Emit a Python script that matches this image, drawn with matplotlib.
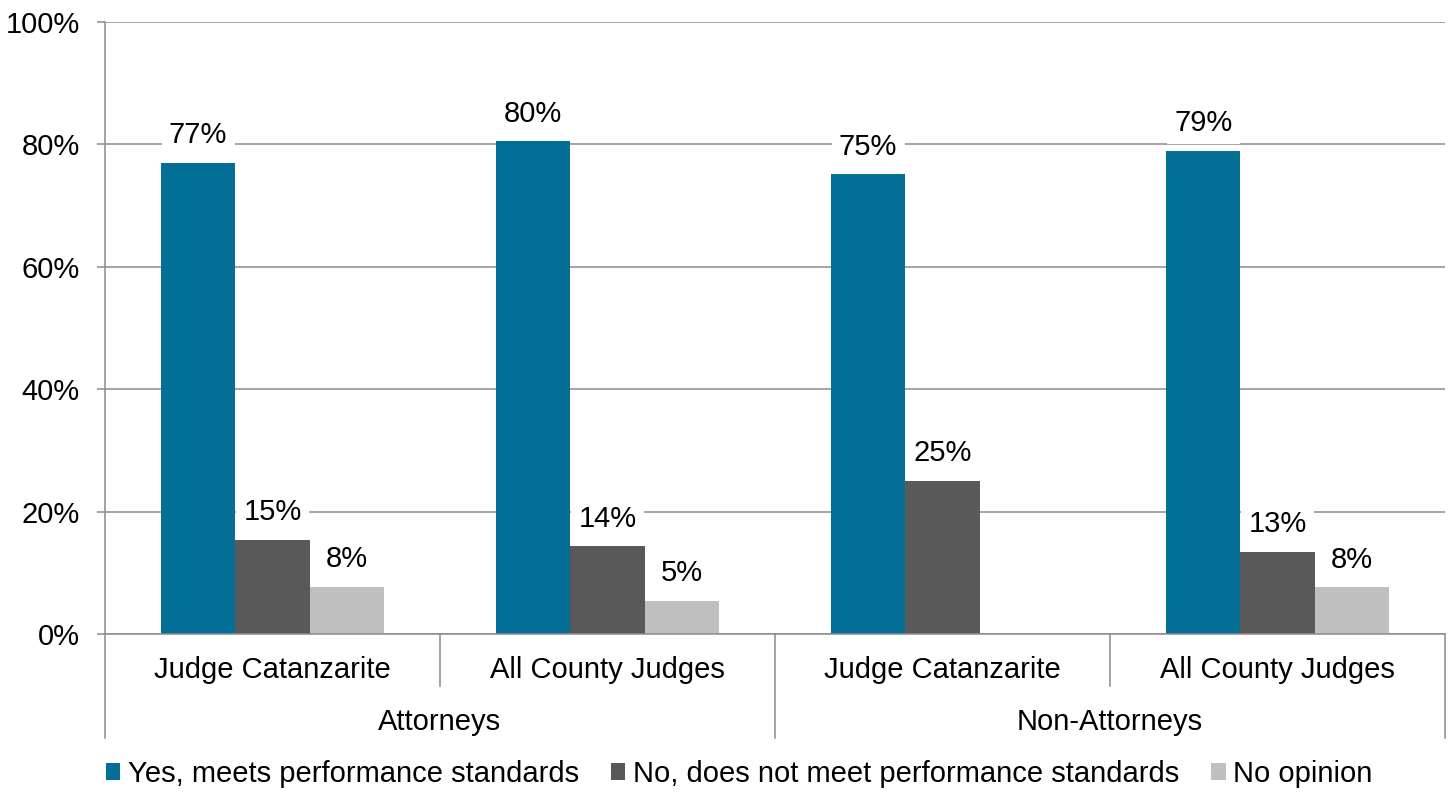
import matplotlib
matplotlib.use("Agg")
import matplotlib.pyplot as plt
import matplotlib.transforms as mtransforms
import numpy as np

plt.rcParams['font.family'] = ['Liberation Sans', 'DejaVu Sans']

categories = ["Judge Catanzarite", "All County Judges", "Judge Catanzarite", "All County Judges"]
groups = ["Attorneys", "Non-Attorneys"]
series_names = ["Yes, meets performance standards",
                "No, does not meet performance standards",
                "No opinion"]
yes_vals = [77.0, 80.5, 75.1, 79.0]
no_vals = [15.4, 14.3, 25.0, 13.4]
noop_vals = [7.7, 5.4, 0.0, 7.6]
colors = ["#046f96", "#595959", "#bfbfbf"]
yticks = [0, 20, 40, 60, 80, 100]

W, H = 1453, 794
fig = plt.figure(figsize=(W / 100, H / 100), dpi=100)
ax = fig.add_axes([105 / W, 1 - 634 / H, (1445 - 105) / W, (634 - 22) / H])

x = np.arange(len(categories))
bw = 0.222
series = [yes_vals, no_vals, noop_vals]
fs = 21
grid_c = "#8c8c8c"

for i, (vals, c, name) in enumerate(zip(series, colors, series_names)):
    pos = x + (i - 1) * bw
    ax.bar(pos, vals, width=bw, color=c, label=name, zorder=2, linewidth=0)
    for p, v in zip(pos, vals):
        if v > 0:
            ax.annotate(f"{round(v):d}%", (p, v), xytext=(0, 20), textcoords="offset points",
                        ha="center", va="center", fontsize=fs, color="black", zorder=4,
                        bbox=dict(boxstyle="square,pad=0.25", fc="white", ec="none"))

ax.set_xlim(-0.5, len(categories) - 0.5)
ax.set_ylim(0, 100)
ax.set_yticks(yticks)
ax.set_yticklabels([f"{t}%" for t in yticks], fontsize=fs)
ax.yaxis.grid(True, color=grid_c, linewidth=1.1, zorder=0)
ax.set_axisbelow(True)
ax.tick_params(axis="y", length=6, width=1.1, color=grid_c, pad=12)
ax.tick_params(axis="x", length=0, labelsize=fs, pad=16)
ax.set_xticks(x)
ax.set_xticklabels(categories)

for s in ["top", "right"]:
    ax.spines[s].set_visible(False)
for s in ["left", "bottom"]:
    ax.spines[s].set_color(grid_c)
    ax.spines[s].set_linewidth(1.1)

trans = mtransforms.blended_transform_factory(ax.transData, ax.transAxes)
ax_h = 634 - 22
inner = -52 / ax_h
outer = -104 / ax_h
for b in np.arange(-0.5, len(categories), 1.0):
    is_outer = (b + 0.5) % 2 == 0
    y0 = outer if is_outer else inner
    ax.plot([b, b], [0, y0], transform=trans, color=grid_c, linewidth=1.1, clip_on=False)
for gi, g in enumerate(groups):
    ax.text(gi * 2 + 0.5, -88 / ax_h, g, transform=trans, ha="center", va="center", fontsize=fs)

leg = fig.legend(loc="center", bbox_to_anchor=(0.5086, 1 - 774 / H), ncol=3, frameon=False,
                 fontsize=fs, handlelength=0.5, handleheight=0.5, handletextpad=0.25,
                 columnspacing=1.1, borderaxespad=0)

fig.savefig("out.png", dpi=100)
